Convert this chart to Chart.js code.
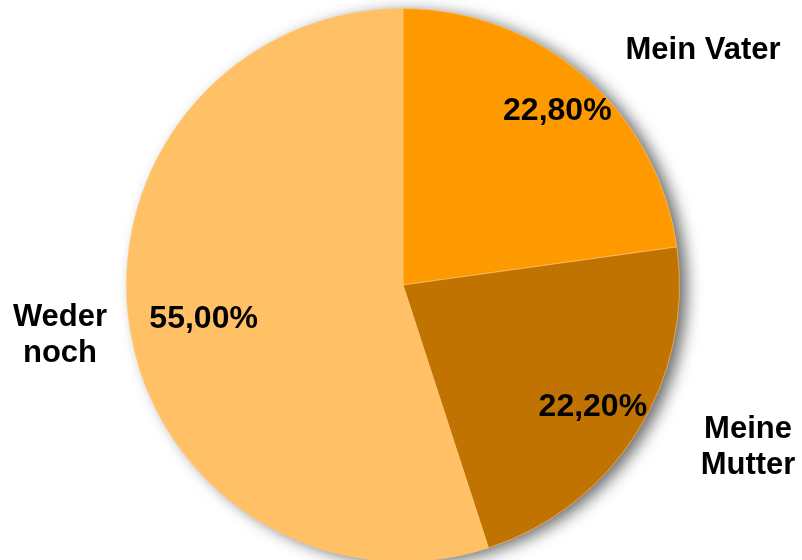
<!DOCTYPE html>
<html>
<head>
<meta charset="utf-8">
<script src="https://cdn.jsdelivr.net/npm/chart.js@4"></script>
<style>
  html, body { margin: 0; padding: 0; background: #fff; overflow: hidden; }
  #wrap { width: 802px; height: 570px; }
</style>
</head>
<body>
<div id="wrap"><canvas id="pie" width="802" height="570"></canvas></div>
<script>
const categories = ['Mein Vater', 'Meine Mutter', 'Weder noch'];
const shares = [22.8, 22.2, 55.0];
const sliceColors = ['#FF9900', '#C07300', '#FFC066'];

// outer category labels (lines), placed by hand
const outerLabels = [
    { lines: ['Mein Vater'], x: 703, y: 50 },
    { lines: ['Meine', 'Mutter'], x: 748, y: 429 },
    { lines: ['Weder', 'noch'], x: 60, y: 317 }
];
const valueRadius = [0.85, 0.81, 0.73]; // fraction of radius for the % labels

const fmt = v => v.toFixed(2).replace('.', ',') + '%';

// shadow disc behind the pie
const shadowPlugin = {
    id: 'pieShadow',
    beforeDatasetsDraw(chart) {
        const arc = chart.getDatasetMeta(0).data[0];
        const ctx = chart.ctx;
        ctx.save();
        ctx.shadowColor = 'rgba(0,0,0,0.6)';
        ctx.shadowBlur = 16;
        ctx.shadowOffsetX = 8;
        ctx.shadowOffsetY = 3;
        ctx.fillStyle = '#FFC066';
        ctx.beginPath();
        ctx.arc(arc.x, arc.y, arc.outerRadius - 1, 0, Math.PI * 2);
        ctx.fill();
        ctx.restore();
    }
};

const labelPlugin = {
    id: 'pieLabels',
    afterDatasetsDraw(chart) {
        const ctx = chart.ctx;
        const meta = chart.getDatasetMeta(0);
        ctx.save();
        ctx.fillStyle = '#000';
        ctx.font = 'bold 32px "Liberation Sans", Arial, sans-serif';
        ctx.textAlign = 'center';
        ctx.textBaseline = 'middle';
        meta.data.forEach((arc, i) => {
            const mid = (arc.startAngle + arc.endAngle) / 2;
            const r = arc.outerRadius * valueRadius[i];
            ctx.fillText(fmt(shares[i]), arc.x + Math.cos(mid) * r, arc.y + Math.sin(mid) * r + 3);
        });
        ctx.font = 'bold 31px "Liberation Sans", Arial, sans-serif';
        outerLabels.forEach(l => {
            l.lines.forEach((t, k) => ctx.fillText(t, l.x, l.y + k * 36));
        });
        ctx.restore();
    }
};

const ctx = document.getElementById('pie').getContext('2d');
const chart = new Chart(ctx, {
    type: 'pie',
    data: {
        labels: categories,
        datasets: [{
            data: shares,
            backgroundColor: sliceColors,
            borderColor: 'rgba(255,200,120,0.6)',
            borderWidth: 1
        }]
    },
    options: {
        responsive: false,
        animation: false,
        layout: { padding: { left: 126, right: 122, top: 8, bottom: 8 } },
        plugins: {
            legend: { display: false },
            tooltip: { enabled: false }
        }
    },
    plugins: [shadowPlugin, labelPlugin]
});
</script>
</body>
</html>
